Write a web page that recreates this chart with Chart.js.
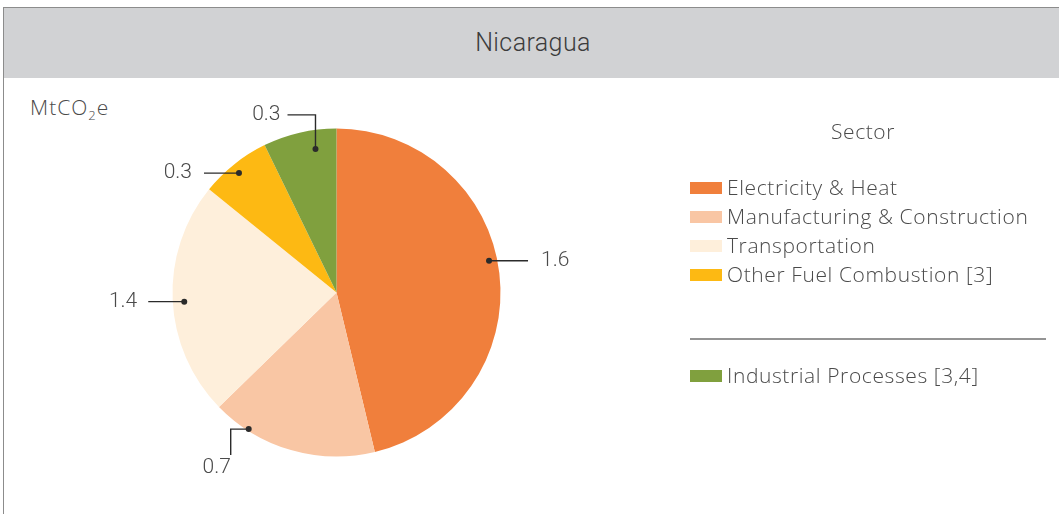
<!DOCTYPE html>
<html>
<head>
<meta charset="utf-8">
<script src="https://cdn.jsdelivr.net/npm/chart.js@4"></script>
<style>
  html, body { margin: 0; padding: 0; background: #fff; }
  #wrap { position: relative; width: 1059px; height: 514px; overflow: hidden; font-family: Roboto, "Liberation Sans", sans-serif; }
  #frame { position: absolute; left: 3px; top: 7px; width: 1060px; height: 520px; border-left: 1px solid #8c8c8c; border-top: 1px solid #8c8c8c; }
  #header { position: absolute; left: 4px; top: 8px; width: 1055px; height: 70px; background: #d1d2d4; color: #3c3c3c;
            font-size: 25px; font-weight: 300; letter-spacing: 0.4px; text-align: center; line-height: 70px; padding-left: 3px; box-sizing: border-box; }
  #unit { position: absolute; left: 30px; top: 93px; font-family: "Open Sans", sans-serif; font-size: 21px; font-weight: 300;
          letter-spacing: 1px; color: #4a4a4a; }
  #unit sub { font-size: 13px; vertical-align: -5px; }
  canvas { position: absolute; left: 0; top: 0; }
</style>
</head>
<body>
<div id="wrap">
  <div id="frame"></div>
  <div id="header">Nicaragua</div>
  <div id="unit">MtCO<sub>2</sub>e</div>
  <canvas id="pie" width="1059" height="514"></canvas>
</div>
<script>
// sectors, clockwise from 12 o'clock
var sectors = ["Electricity & Heat", "Manufacturing & Construction", "Transportation", "Other Fuel Combustion [3]", "Industrial Processes [3,4]"];
// slice sizes as drawn in the picture
var sliceValues = [1.6, 0.57, 0.80, 0.24, 0.25];
// numbers printed next to the slices
var valueLabels = ["1.6", "0.7", "1.4", "0.3", "0.3"];
var colors = ["#f07f3c", "#f9c6a4", "#feefdb", "#fdb913", "#80a03e"];

var textColor = "#4a4a4a";
var lineColor = "#2b2b2b";
var numFont = "Roboto, 'Liberation Sans', sans-serif";
var legendFont = "'Open Sans', Roboto, sans-serif";

// where each callout sits on its slice (fraction of angle, fraction of radius) and how its leader runs
var callouts = [
  { t: 0.47, r: 0.95, path: [[39, 0]], align: "left", tx: 13, ty: 0 },
  { t: 0.78, r: 0.99, path: [[-18, 0], [0, 26]], align: "center", tx: -14, ty: 13 },
  { t: 0.49, r: 0.93, path: [[-36, 0]], align: "right", tx: -11, ty: 0 },
  { t: 0.47, r: 0.94, path: [[-35, 0]], align: "right", tx: -12, ty: 0 },
  { t: 0.68, r: 0.885, path: [[0, -34], [-28, 0]], align: "right", tx: -7, ty: 0 }
];

var calloutPlugin = {
  id: 'callouts',
  afterDatasetsDraw: function(chart) {
    var ctx = chart.ctx;
    var arcs = chart.getDatasetMeta(0).data;
    ctx.save();
    arcs.forEach(function(arc, i) {
      var c = callouts[i];
      var a = arc.startAngle + (arc.endAngle - arc.startAngle) * c.t;
      var x = arc.x + Math.cos(a) * arc.outerRadius * c.r;
      var y = arc.y + Math.sin(a) * arc.outerRadius * c.r;
      ctx.strokeStyle = lineColor;
      ctx.lineWidth = 1.4;
      ctx.beginPath();
      ctx.moveTo(x, y);
      var px = x, py = y;
      c.path.forEach(function(p) { px += p[0]; py += p[1]; ctx.lineTo(px, py); });
      ctx.stroke();
      ctx.fillStyle = lineColor;
      ctx.beginPath();
      ctx.arc(x, y, 3, 0, Math.PI * 2);
      ctx.fill();
      ctx.fillStyle = textColor;
      ctx.font = "300 21px " + numFont;
      ctx.textAlign = c.align;
      ctx.textBaseline = "middle";
      ctx.fillText(valueLabels[i], px + c.tx, py + c.ty);
    });
    ctx.restore();
  }
};

var legendPlugin = {
  id: 'sideLegend',
  afterDraw: function(chart) {
    var ctx = chart.ctx;
    ctx.save();
    ctx.fillStyle = textColor;
    ctx.font = "300 21px " + legendFont;
    ctx.letterSpacing = "0.6px";
    ctx.textAlign = "center";
    ctx.textBaseline = "middle";
    ctx.fillText("Sector", 863, 133);
    ctx.textAlign = "left";
    var rows = [188, 217, 246, 275, 376];
    sectors.forEach(function(s, i) {
      ctx.fillStyle = colors[i];
      ctx.fillRect(690, rows[i] - 6, 32, 12);
      ctx.fillStyle = textColor;
      ctx.fillText(s, 727, rows[i] + 1);
    });
    ctx.strokeStyle = lineColor;
    ctx.lineWidth = 1.2;
    ctx.beginPath();
    ctx.moveTo(690, 339);
    ctx.lineTo(1046, 339);
    ctx.stroke();
    ctx.restore();
  }
};

new Chart(document.getElementById("pie").getContext('2d'), {
  type: 'pie',
  data: {
    labels: sectors,
    datasets: [{
      data: sliceValues,
      backgroundColor: colors,
      borderWidth: 0
    }]
  },
  options: {
    responsive: false,
    animation: false,
    layout: { padding: { top: 128.5, left: 172.5, right: 558.5, bottom: 57.5 } },
    plugins: { legend: { display: false }, tooltip: { enabled: false } }
  },
  plugins: [calloutPlugin, legendPlugin]
});
</script>
</body>
</html>
